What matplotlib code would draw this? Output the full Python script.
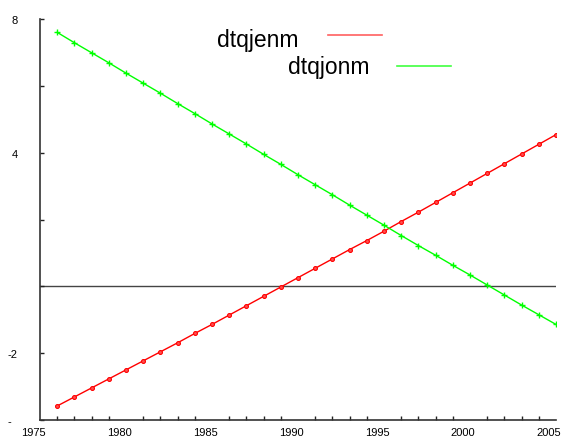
import numpy as np
import matplotlib
matplotlib.use("Agg")
import matplotlib.pyplot as plt
import matplotlib.transforms as mtransforms
from matplotlib.lines import Line2D

plt.rcParams["font.family"] = ["Liberation Sans", "DejaVu Sans"]

# data
years = list(range(1976, 2006))
dtqjenm = [-3.58, -3.31, -3.04, -2.77, -2.50, -2.23, -1.96, -1.69, -1.41, -1.14,
           -0.86, -0.58, -0.30, -0.02, 0.26, 0.54, 0.82, 1.10, 1.37, 1.65,
           1.94, 2.22, 2.51, 2.80, 3.09, 3.38, 3.67, 3.96, 4.25, 4.54]
dtqjonm = [7.60, 7.29, 6.99, 6.69, 6.38, 6.08, 5.78, 5.47, 5.17, 4.86,
           4.56, 4.26, 3.95, 3.65, 3.34, 3.04, 2.74, 2.43, 2.13, 1.83,
           1.52, 1.22, 0.93, 0.63, 0.34, 0.04, -0.26, -0.56, -0.85, -1.14]
xlabel_years = [1975, 1980, 1985, 1990, 1995, 2000, 2005]
yticks = [8, 6, 4, 2, 0, -2, -4]
ylabels = ["8", "", "4", "", "", "-2", "-  "]

fig = plt.figure(figsize=(5.61, 4.39), dpi=100)
ax = fig.add_axes([40/561, 18/439, 516/561, 401/439])

ax.axhline(0, color="#444444", lw=1.0, zorder=1)
ax.plot(years, dtqjenm, color="#ff0000", lw=1.0, marker="o", ms=2.8,
        mfc="#ff5050", mec="#ff0000", mew=0.8, zorder=3)
ax.plot(years, dtqjonm, color="#00ff00", lw=1.0, marker="+", ms=5, mew=1.0,
        zorder=3)

ax.set_xlim(1975, 2005)
ax.set_ylim(-4, 8)

for s in ["top", "right"]:
    ax.spines[s].set_visible(False)
for s in ["left", "bottom"]:
    ax.spines[s].set_color("#333333")
    ax.spines[s].set_linewidth(1.2)

ax.set_xticks(xlabel_years)
ax.set_xticklabels([str(y) for y in xlabel_years], fontsize=8)
ax.set_xticks(years, minor=True)
ax.tick_params(axis="x", which="major", length=0, pad=5)
ax.tick_params(axis="x", which="minor", direction="in", length=3, width=1,
               color="#222222")
shift = mtransforms.ScaledTranslation(-7/100, 0, fig.dpi_scale_trans)
for lab in ax.get_xticklabels():
    lab.set_transform(lab.get_transform() + shift)

ax.set_yticks(yticks)
ax.set_yticklabels(ylabels, fontsize=8)
ax.tick_params(axis="y", direction="in", length=3, width=1, color="#222222",
               pad=16)

# staggered key
fig.text(217/561, 1 - 47/439, "dtqjenm", fontsize=16.5, ha="left",
         va="baseline")
fig.text(288/561, 1 - 74/439, "dtqjonm", fontsize=16.5, ha="left",
         va="baseline")
fig.add_artist(Line2D([328/561, 382/561], [1 - 36/439, 1 - 36/439],
                      color="#ff6060", lw=1.2))
fig.add_artist(Line2D([397/561, 451/561], [1 - 67/439, 1 - 67/439],
                      color="#40ff40", lw=1.2))

fig.savefig("out.png", dpi=100)
